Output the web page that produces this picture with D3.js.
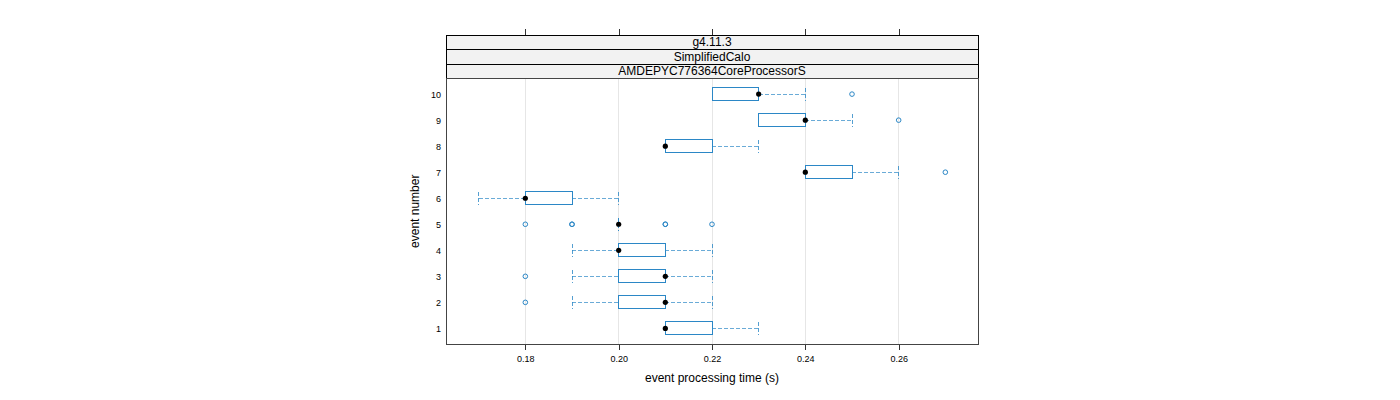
<!DOCTYPE html>
<html>
<head>
<meta charset="utf-8">
<script src="https://cdn.jsdelivr.net/npm/d3@7"></script>
<style>
  body { margin: 0; background: #fff; }
  text { font-family: "Liberation Sans", Arial, sans-serif; fill: #000; }
  line, rect { shape-rendering: crispEdges; }
</style>
</head>
<body>
<svg id="chart" width="1400" height="400"></svg>
<script>
// data
var events = [1, 2, 3, 4, 5, 6, 7, 8, 9, 10];
var lowerWhisker = [0.21, 0.19, 0.19, 0.19, 0.20, 0.17, 0.24, 0.21, 0.23, 0.22];
var lowerHinge   = [0.21, 0.20, 0.20, 0.20, 0.20, 0.18, 0.24, 0.21, 0.23, 0.22];
var medians      = [0.21, 0.21, 0.21, 0.20, 0.20, 0.18, 0.24, 0.21, 0.24, 0.23];
var upperHinge   = [0.22, 0.21, 0.21, 0.21, 0.20, 0.19, 0.25, 0.22, 0.24, 0.23];
var upperWhisker = [0.23, 0.22, 0.22, 0.22, 0.20, 0.20, 0.26, 0.23, 0.25, 0.24];
var outliers = [[], [0.18], [0.18], [], [0.18, 0.19, 0.19, 0.21, 0.21, 0.22], [], [0.27], [], [0.26], [0.25]];
var xTicks = [0.18, 0.20, 0.22, 0.24, 0.26];
var strips = ["g4.11.3", "SimplifiedCalo", "AMDEPYC776364CoreProcessorS"];

var svg = d3.select("#chart");
var pLeft = 446, pRight = 978, pTop = 78.5, pBottom = 344;
var stripH = 14.5;
var col = "#2b87c6";

var x = d3.scaleLinear().domain([0.163, 0.277]).range([pLeft, pRight]);
var y = d3.scaleLinear().domain([0.4, 10.6]).range([pBottom, pTop]);

// grid
svg.append("g").selectAll("line").data(xTicks).join("line")
  .attr("x1", d => x(d)).attr("x2", d => x(d))
  .attr("y1", pTop).attr("y2", pBottom)
  .attr("stroke", "#e6e6e6");

// bottom axis
var xAxis = d3.axisBottom(x).tickValues(xTicks).tickFormat(d3.format(".2f")).tickSizeOuter(0).tickSize(6);
var gx = svg.append("g").attr("transform", "translate(0," + pBottom + ")").call(xAxis);
gx.select(".domain").remove();
gx.selectAll("line").attr("stroke", "#333");
gx.selectAll("text").attr("font-size", 9).attr("dy", "0.95em")
  .style("font-family", "'Liberation Sans', Arial, sans-serif");

// top ticks
var stripTop = pTop - stripH * strips.length;
var gt = svg.append("g").attr("transform", "translate(0," + stripTop + ")")
  .call(d3.axisTop(x).tickValues(xTicks).tickFormat("").tickSizeOuter(0).tickSize(6));
gt.select(".domain").remove();
gt.selectAll("line").attr("stroke", "#333");

// y labels
var gy = svg.append("g").attr("transform", "translate(" + pLeft + ",0)")
  .call(d3.axisLeft(y).tickValues(events).tickFormat(d3.format("d")).tickSize(0).tickPadding(5));
gy.select(".domain").remove();
gy.selectAll("text").attr("font-size", 9)
  .style("font-family", "'Liberation Sans', Arial, sans-serif");

// strips
strips.forEach(function(s, i) {
  var y0 = stripTop + i * stripH;
  svg.append("rect").attr("x", pLeft).attr("y", y0).attr("width", pRight - pLeft).attr("height", stripH)
    .attr("fill", "#f2f2f2").attr("stroke", "#000").attr("stroke-width", 1);
  svg.append("text").attr("x", (pLeft + pRight) / 2).attr("y", y0 + stripH / 2 + 4.2)
    .attr("text-anchor", "middle").attr("font-size", 12).text(s);
});

// boxes
var boxH = 13;
var g = svg.append("g");
events.forEach(function(ev, i) {
  var cy = y(ev);
  // whiskers
  [[lowerWhisker[i], lowerHinge[i]], [upperHinge[i], upperWhisker[i]]].forEach(function(w) {
    if (w[0] === w[1]) return;
    g.append("line").attr("x1", x(w[0])).attr("x2", x(w[1])).attr("y1", cy).attr("y2", cy)
      .attr("stroke", col).attr("stroke-dasharray", "4,2").attr("stroke-opacity", 0.7);
  });
  [lowerWhisker[i], upperWhisker[i]].forEach(function(v) {
    g.append("line").attr("x1", x(v)).attr("x2", x(v)).attr("y1", cy - boxH / 2).attr("y2", cy + boxH / 2)
      .attr("stroke", col).attr("stroke-dasharray", "4,2").attr("stroke-opacity", 0.8);
  });
  g.append("rect").attr("x", x(lowerHinge[i])).attr("y", cy - boxH / 2)
    .attr("width", x(upperHinge[i]) - x(lowerHinge[i])).attr("height", boxH)
    .attr("fill", "none").attr("stroke", col);
  outliers[i].forEach(function(o) {
    g.append("circle").attr("cx", x(o)).attr("cy", cy).attr("r", 2.3)
      .attr("fill", "none").attr("stroke", col).attr("stroke-width", 1);
  });
  g.append("circle").attr("cx", x(medians[i])).attr("cy", cy).attr("r", 2.6).attr("fill", "#000");
});

// panel border
svg.append("rect").attr("x", pLeft).attr("y", pTop).attr("width", pRight - pLeft).attr("height", pBottom - pTop)
  .attr("fill", "none").attr("stroke", "#444");

// axis titles
svg.append("text").attr("x", (pLeft + pRight) / 2).attr("y", 382).attr("text-anchor", "middle")
  .attr("font-size", 12).text("event processing time (s)");
svg.append("text").attr("transform", "translate(419," + ((pTop + pBottom) / 2) + ") rotate(-90)")
  .attr("text-anchor", "middle").attr("font-size", 12).text("event number");
</script>
</body>
</html>
